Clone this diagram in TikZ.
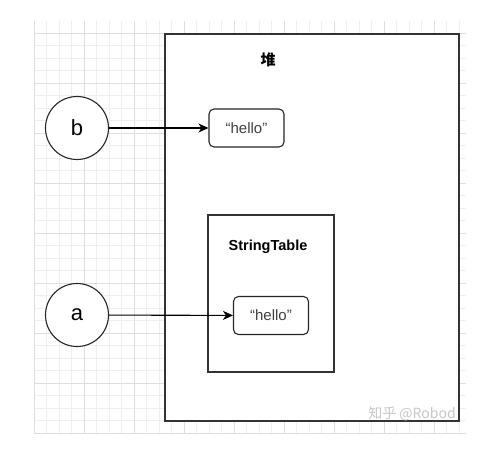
\documentclass[tikz,border=0pt]{standalone}
\usepackage{fontspec}
\setmainfont{Liberation Sans}
\newfontfamily\cjk{Noto Sans CJK SC}
\usetikzlibrary{arrows.meta}

\definecolor{gridminor}{HTML}{EFEFEF}
\definecolor{gridmajor}{HTML}{DEDEDE}
\definecolor{textgray}{HTML}{404040}

\begin{document}
\begin{tikzpicture}[x=1pt,y=-1pt]
	\tikzstyle{every node}+=[inner sep=0pt]
	\tikzstyle{var}=[draw=black!85, fill=white, line width=1.1pt, circle, minimum size=63pt, font=\fontsize{22}{22}\selectfont]
	\tikzstyle{strbox}=[draw=black!85, fill=white, line width=1.1pt, rounded corners=5pt, minimum width=75pt, minimum height=38pt, text=textgray, font=\fontsize{15}{15}\selectfont]
	\tikzstyle{area}=[draw=black!80, fill=white, line width=1.2pt]
	\tikzstyle{ref}=[-{Stealth[length=10pt,width=9pt,inset=3pt]}, line width=1.1pt]
	\useasboundingbox (0,0) rectangle (493,451);
	% grid behind
	\begin{scope}
		\clip (34,21) rectangle (466,433);
		\foreach \x in {34,46.5,...,466} \draw[gridminor] (\x,21) -- (\x,433);
		\foreach \y in {20.5,33,...,433} \draw[gridminor] (34,\y) -- (466,\y);
		\foreach \x in {34,84,...,434} \draw[gridmajor] (\x,21) -- (\x,433);
		\foreach \y in {33,83,...,433} \draw[gridmajor] (34,\y) -- (466,\y);
	\end{scope}
	% heap
	\node[area, minimum width=294pt, minimum height=387pt] (heap) at (312,227.5) {};
	\node[font=\cjk\bfseries\fontsize{15}{15}\selectfont] (heaplbl) at (268,60) {堆};
	\node[area, minimum width=126pt, minimum height=157pt] (table) at (271,293.5) {};
	\node[font=\bfseries\fontsize{14.5}{14.5}\selectfont] (tablelbl) at (268,247) {StringTable};
	\node[strbox] (hb) at (246.5,128) {“hello”};
	\node[strbox] (ha) at (271,315.5) {“hello”};
	% variables
	\node[var] (b) at (77,128) {b};
	\node[var] (a) at (77,315) {a};
	\draw[ref] (b) -- (hb);
	\draw[ref] (a) -- (ha);
	\node[text=black!22, font=\cjk\fontsize{14}{14}\selectfont] (mark) at (412,414) {知乎 @Robod};
\end{tikzpicture}
\end{document}
